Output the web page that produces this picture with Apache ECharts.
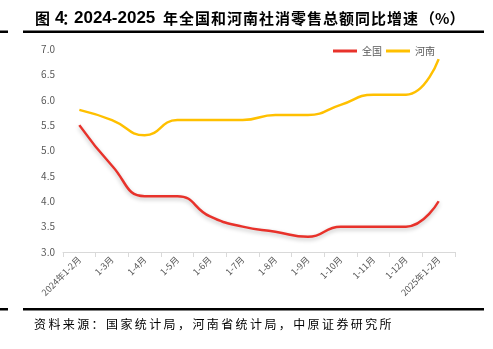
<!DOCTYPE html>
<html><head><meta charset="utf-8">
<script src="https://cdn.jsdelivr.net/npm/echarts@6/dist/echarts.min.js"></script>
<style>html,body{margin:0;padding:0;background:#fff}#c{width:493px;height:349px}</style>
</head><body><div id="c"></div>
<script>
const categories = ['2024年1-2月','1-3月','1-4月','1-5月','1-6月','1-7月','1-8月','1-9月','1-10月','1-11月','1-12月','2025年1-2月'];
const national = [5.5, 4.7, 4.1, 4.1, 3.7, 3.5, 3.4, 3.3, 3.5, 3.5, 3.5, 4.0];
const henan = [5.8, 5.6, 5.3, 5.6, 5.6, 5.6, 5.7, 5.7, 5.9, 6.1, 6.1, 6.8];
const yTicks = [3.0, 3.5, 4.0, 4.5, 5.0, 5.5, 6.0, 6.5, 7.0];
const titleHead = ['图', '4', '：', '2024-2025'];
const titleChars = '年全国和河南社消零售总额同比增速';
const titleTail = '（%）';
const sourceText = '资料来源：国家统计局，河南省统计局，中原证券研究所';

const chart = echarts.init(document.getElementById('c'), null, {renderer:'canvas'});
const font = '"Microsoft YaHei","Noto Sans CJK SC",sans-serif';
const lastLabel = {
  show: true, position: 'right', distance: 12, color: '#595959', fontSize: 10, fontFamily: font,
  formatter: p => p.dataIndex === categories.length - 1 ? p.value.toFixed(1) : ''
};

const graphics = [
  {type: 'rect', shape: {x: 23, y: 30.5, width: 461, height: 2.5}, style: {fill: '#000'}},
  {type: 'rect', shape: {x: 0, y: 30.5, width: 8, height: 2.5}, style: {fill: '#000'}},
  {type: 'rect', shape: {x: 23, y: 308, width: 461, height: 2.5}, style: {fill: '#000'}},
  {type: 'rect', shape: {x: 0, y: 308, width: 8, height: 2.5}, style: {fill: '#000'}}
];
const tFont = 'bold 15px "Noto Sans CJK SC",sans-serif';
const tFontLatin = 'bold 17px "Liberation Sans",Arial,sans-serif';
const headX = [35, 55, 62, 74];
titleHead.forEach((t, i) => graphics.push({type: 'text', x: headX[i], y: 18, style: {text: t, font: (i === 0 || i === 2) ? tFont : tFontLatin, fill: '#000', textVerticalAlign: 'middle'}}));
titleChars.split('').forEach((ch, i) => graphics.push({type: 'text', x: 163 + i * 16, y: 18, style: {text: ch, font: tFont, fill: '#000', textVerticalAlign: 'middle'}}));
graphics.push({type: 'text', x: 420, y: 18, style: {text: titleTail, font: tFont, fill: '#000', textVerticalAlign: 'middle'}});
sourceText.split('').forEach((ch, i) => graphics.push({type: 'text', x: 34 + i * 14.4, y: 324, style: {text: ch, font: '12px "Noto Sans CJK SC",sans-serif', fill: '#000', textVerticalAlign: 'middle'}}));

chart.setOption({
  animation: false,
  grid: {left: 63, right: 38, top: 49, bottom: 97},
  legend: {
    top: 41, left: 328, itemWidth: 24, itemHeight: 3, itemGap: 4,
    textStyle: {fontSize: 10, color: '#595959', fontFamily: font},
    icon: 'rect',
    data: ['全国', '河南']
  },
  xAxis: {
    type: 'category', data: categories, boundaryGap: true,
    axisLine: {lineStyle: {color: '#d9d9d9'}},
    axisTick: {show: true, lineStyle: {color: '#d9d9d9'}},
    axisLabel: {rotate: 45, fontSize: 9, color: '#595959', fontFamily: font, interval: 0, margin: 6}
  },
  yAxis: {
    type: 'value', min: yTicks[0], max: yTicks[yTicks.length-1], interval: 0.5,
    axisLine: {show: false}, axisTick: {show: false}, splitLine: {show: false},
    axisLabel: {fontSize: 10, color: '#595959', fontFamily: font, formatter: v => v.toFixed(1), margin: 8}
  },
  series: [
    {name: '全国', type: 'line', data: national, smooth: 0.5, symbol: 'none',
     lineStyle: {color: '#e8322b', width: 2.5, shadowColor: 'rgba(0,0,0,0.25)', shadowBlur: 4, shadowOffsetY: 2},
     itemStyle: {color: '#e8322b'}, label: lastLabel},
    {name: '河南', type: 'line', data: henan, smooth: 0.5, symbol: 'none',
     lineStyle: {color: '#ffc000', width: 2.5},
     itemStyle: {color: '#ffc000'}, label: lastLabel}
  ],
  graphic: graphics
});
</script></body></html>
